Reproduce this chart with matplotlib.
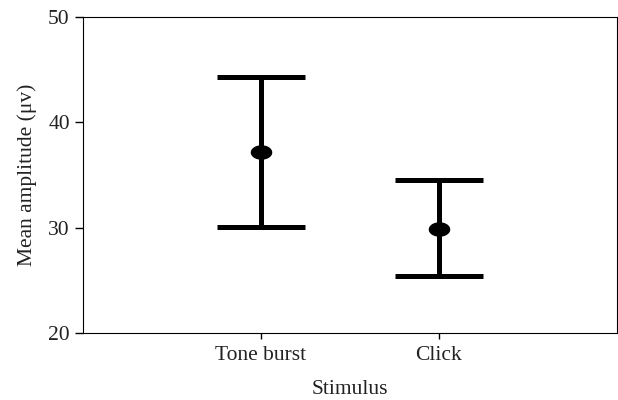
"""Mean amplitude by stimulus type, with error bars."""
import matplotlib
matplotlib.use('Agg')
import matplotlib.pyplot as plt
import numpy as np
from matplotlib.path import Path

plt.rcParams['font.family'] = ['Liberation Serif', 'DejaVu Serif']

# data
stimuli = ['Tone burst', 'Click']
means = [37.2, 29.9]
upper = [44.3, 34.5]
lower = [30.1, 25.4]

positions = list(range(1, len(stimuli) + 1))
err_low = [m - lo for m, lo in zip(means, lower)]
err_high = [hi - m for m, hi in zip(means, upper)]

# slightly flattened dot, as in the original figure
theta = np.linspace(0, 2 * np.pi, 60)
oval = Path(np.column_stack([np.cos(theta), 0.65 * np.sin(theta)]), closed=True)

figure = plt.figure(figsize=(6.18, 4.0), dpi=100)
axes = figure.add_axes([83 / 618, 1 - 333 / 400, 534 / 618, 316 / 400])

axes.errorbar(positions, means, yerr=[err_low, err_high], fmt='none',
              ecolor='black', elinewidth=3.6, capsize=32, capthick=3.6)
axes.plot(positions, means, linestyle='none', marker=oval,
          markersize=14.5, color='black')

axes.set(xlim=(0, 3), ylim=(20, 50))
axes.set_xticks(positions, stimuli)
axes.set_yticks([20, 30, 40, 50])
axes.tick_params(labelsize=15.5, width=1, labelcolor='#222222')
axes.tick_params(axis='y', length=6)
axes.tick_params(axis='x', length=4.5, pad=5)
axes.set_xlabel('Stimulus', fontsize=15.5, labelpad=11, color='#222222')
axes.set_ylabel('Mean amplitude (μv)', fontsize=15.5, labelpad=8,
                color='#222222')

figure.savefig('out.png', dpi=100)
